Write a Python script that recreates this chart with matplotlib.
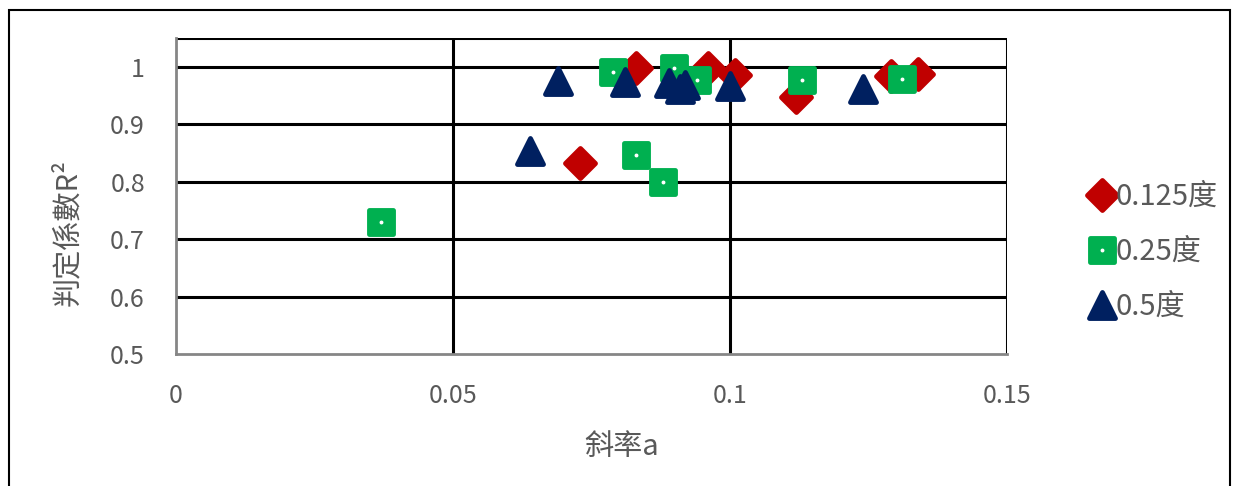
import matplotlib
matplotlib.use('Agg')
import matplotlib.pyplot as plt
from matplotlib.lines import Line2D
from matplotlib.markers import MarkerStyle
from matplotlib.patches import Rectangle

plt.rcParams['font.family'] = ['Noto Sans CJK TC', 'DejaVu Sans']

# slope a vs. coefficient of determination R^2 for each grid resolution
slope_0125 = [0.073, 0.083, 0.096, 0.101, 0.112, 0.129, 0.134]
r2_0125 = [0.833, 0.997, 0.997, 0.985, 0.948, 0.983, 0.988]

slope_025 = [0.037, 0.079, 0.083, 0.088, 0.090, 0.094, 0.113, 0.131]
r2_025 = [0.730, 0.990, 0.846, 0.800, 0.998, 0.977, 0.977, 0.978]

slope_05 = [0.064, 0.069, 0.081, 0.089, 0.091, 0.092, 0.100, 0.124]
r2_05 = [0.853, 0.976, 0.974, 0.972, 0.962, 0.969, 0.967, 0.962]

labels = ['0.125度', '0.25度', '0.5度']
colors = ['#C00000', '#00B050', '#002060']
markers = ['D', 's', '^']
sizes = [15, 17, 19]

xticks = [0, 0.05, 0.1, 0.15]
xticklabels = ['0', '0.05', '0.1', '0.15']
yticks = [0.5, 0.6, 0.7, 0.8, 0.9, 1.0]
yticklabels = ['0.5', '0.6', '0.7', '0.8', '0.9', '1']

W, H = 1237, 486
fig = plt.figure(figsize=(W / 100, H / 100), dpi=100)
ax = fig.add_axes([175.5 / W, 1 - 354 / H, (1007 - 175.5) / W, (354 - 38) / H])

# outer chart frame
fig.patches.append(Rectangle((9 / W, -0.05), (1230 - 9) / W, (1 - 10 / H) + 0.05,
                             transform=fig.transFigure, fill=False,
                             edgecolor='black', linewidth=1.5, zorder=0))


def rounded(m):
    return MarkerStyle(m, joinstyle='round')


series = [(slope_0125, r2_0125), (slope_025, r2_025), (slope_05, r2_05)]
for (xs, ys), lab, c, m, s in zip(series, labels, colors, markers, sizes):
    ax.plot(xs, ys, linestyle='none', marker=rounded(m), markersize=s, color=c,
            markeredgecolor=c, markeredgewidth=3.5, label=lab, zorder=3)

# small white dot in the centre of the green squares
ax.plot(slope_025, r2_025, linestyle='none', marker='o', markersize=1.8,
        color='white', zorder=4)

ax.set_xlim(0, 0.15)
ax.set_ylim(0.5, 1.05)
ax.set_xticks(xticks)
ax.set_xticklabels(xticklabels)
ax.set_yticks(yticks)
ax.set_yticklabels(yticklabels)
ax.tick_params(length=0, labelsize=18, labelcolor='#595959', pad=22)
ax.tick_params(axis='x', pad=21)

for y in [0.6, 0.7, 0.8, 0.9, 1.0, 1.05]:
    ax.axhline(y, color='black', linewidth=2.2, zorder=1)
for x in [0.05, 0.1, 0.15]:
    ax.axvline(x, color='black', linewidth=2.2, zorder=1)

for side in ['top', 'right']:
    ax.spines[side].set_visible(False)
for side in ['left', 'bottom']:
    ax.spines[side].set_color('#868686')
    ax.spines[side].set_linewidth(2)

ax.set_xlabel('斜率a', fontsize=21, color='#595959', va='center')
ax.set_ylabel('判定係數R²', fontsize=21, color='#595959', va='center')
ax.xaxis.set_label_coords(0.537, -0.294)
ax.yaxis.set_label_coords(-0.129, 0.386)

handles = [Line2D([], [], linestyle='none', marker=rounded(m), markersize=s,
                  color=c, markeredgecolor=c, markeredgewidth=3.5)
           for m, c, s in zip(markers, colors, sizes)]
handles[1] = (handles[1], Line2D([], [], linestyle='none', marker='o',
                                 markersize=1.8, color='white'))
leg = fig.legend(handles, labels, loc='center left',
                 bbox_to_anchor=(1076 / W, 1 - 252 / H), frameon=False,
                 fontsize=21, labelcolor='#595959', handlelength=0.8,
                 handletextpad=0.05, labelspacing=0.85, borderpad=0)

fig.savefig('out.png', dpi=100)
